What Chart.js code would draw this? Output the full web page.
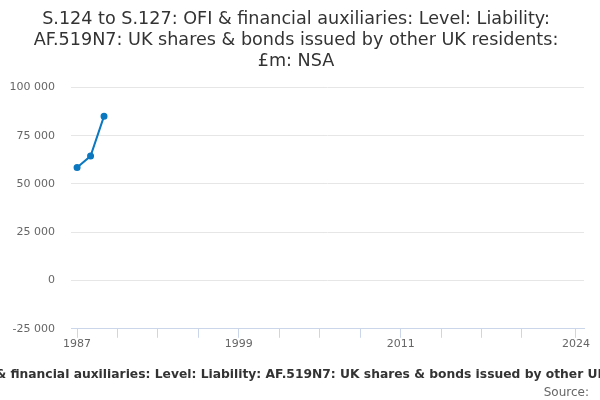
<!DOCTYPE html>
<html>
<head>
<meta charset="utf-8">
<script src="https://cdn.jsdelivr.net/npm/chart.js@4"></script>
<style>
  html, body { margin: 0; padding: 0; background: #fff; }
  #wrap { width: 600px; height: 400px; }
</style>
</head>
<body>
<div id="wrap"><canvas id="line-chart"></canvas></div>
<script>
const years = [1987, 1988, 1989]
const values = [58500, 64400, 85100]
const tickYears = [1987, 1990, 1993, 1996, 1999, 2002, 2005, 2008, 2011, 2014, 2017, 2020, 2024]
const labelYears = [1987, 1999, 2011, 2024]
const yTicks = [-25000, 0, 25000, 50000, 75000, 100000]

const title = [
  'S.124 to S.127: OFI & financial auxiliaries: Level: Liability:',
  'AF.519N7: UK shares & bonds issued by other UK residents:',
  '£m: NSA'
]
const xTitle = 'S.124 to S.127: OFI & financial auxiliaries: Level: Liability: AF.519N7: UK shares & bonds issued by other UK residents: £m: NSA'
const source = 'Source:'

const font = 'DejaVu Sans'
const fmt = v => String(v).replace(/\B(?=(\d{3})+(?!\d))/g, ' ')

// bottom texts are drawn by hand so they get clipped by the canvas like the original
const footerText = {
  id: 'footerText',
  afterDraw(chart) {
    const ctx = chart.ctx
    ctx.save()
    ctx.fillStyle = '#333'
    ctx.font = `bold 12.3px "${font}"`
    ctx.textAlign = 'center'
    ctx.textBaseline = 'middle'
    ctx.fillText(xTitle, 301, 375)
    ctx.fillStyle = '#666'
    ctx.font = `12px "${font}"`
    ctx.textAlign = 'right'
    ctx.fillText(source, 589, 393)
    ctx.restore()
  }
}

new Chart(document.getElementById('line-chart'), {
  type: 'line',
  data: {
    datasets: [{
      data: years.map((y, i) => ({ x: y, y: values[i] })),
      borderColor: '#0b78c0',
      backgroundColor: '#0b78c0',
      borderWidth: 2,
      pointRadius: 2.5,
      pointHoverRadius: 3,
      tension: 0
    }]
  },
  options: {
    responsive: true,
    maintainAspectRatio: false,
    animation: false,
    layout: { padding: { left: 8, right: 16, top: 0, bottom: 49 } },
    plugins: {
      legend: { display: false },
      tooltip: { enabled: false },
      title: {
        display: true,
        text: title,
        color: '#333',
        font: { family: font, size: 17.6, weight: 'normal', lineHeight: 1.2 },
        padding: { top: 9, bottom: 15 }
      }
    },
    scales: {
      x: {
        type: 'linear',
        min: 1986.55,
        max: 2024.6,
        afterBuildTicks: axis => { axis.ticks = tickYears.map(v => ({ value: v })) },
        grid: { drawOnChartArea: false, drawTicks: true, tickLength: 9, color: '#ccd6eb' },
        border: { color: '#ccd6eb' },
        ticks: {
          autoSkip: false,
          maxRotation: 0,
          padding: 0,
          color: '#666',
          font: { family: font, size: 11 },
          callback: v => labelYears.includes(v) ? String(v) : ''
        }
      },
      y: {
        min: -25000,
        max: 100000,
        afterBuildTicks: axis => { axis.ticks = yTicks.map(v => ({ value: v })) },
        afterFit: axis => { axis.width = 63 },
        grid: { color: '#e6e6e6', drawTicks: true, tickLength: 8, tickColor: 'transparent' },
        border: { display: false },
        ticks: {
          padding: 8,
          color: '#666',
          font: { family: font, size: 11 },
          callback: v => fmt(v)
        }
      }
    }
  },
  plugins: [footerText]
})
</script>
</body>
</html>
